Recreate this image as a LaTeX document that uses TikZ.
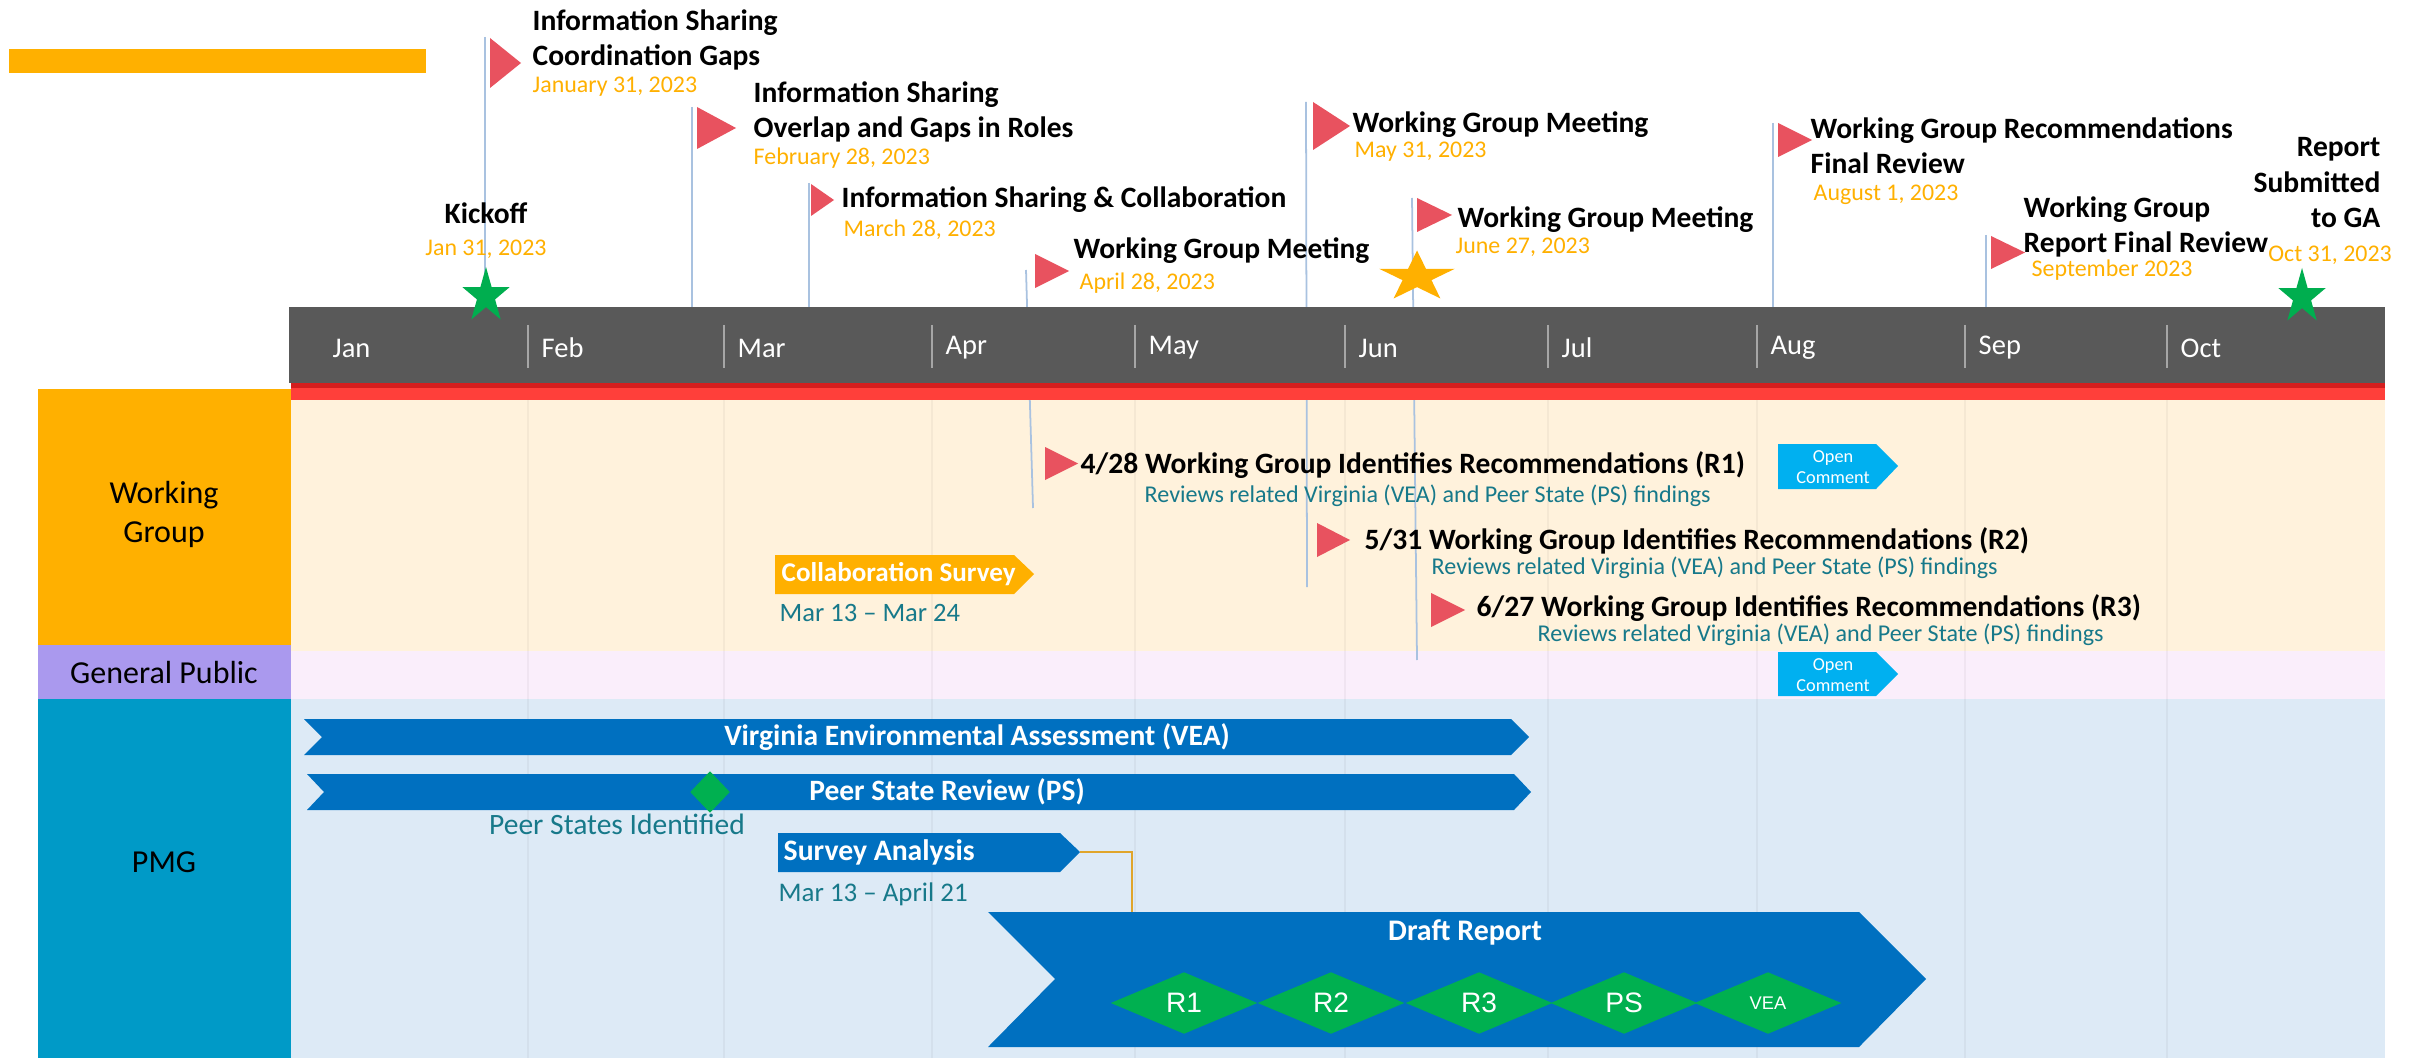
\documentclass[tikz,border=0pt]{standalone}
\usepackage{fontspec}
\setmainfont{Carlito}
\newfontfamily\arialfont{Liberation Sans}
\usetikzlibrary{shapes.geometric}
\definecolor{wgorange}{HTML}{FFB000}
\definecolor{gppurple}{HTML}{AA99EE}
\definecolor{pmgblue}{HTML}{009AC7}
\definecolor{wgbg}{HTML}{FFF2DC}
\definecolor{gpbg}{HTML}{FAEEFB}
\definecolor{pmgbg}{HTML}{DDEAF6}
\definecolor{hdrgray}{HTML}{595959}
\definecolor{stripred}{HTML}{FF3F3A}
\definecolor{darkred}{HTML}{D41E1E}
\definecolor{flagred}{HTML}{E8525F}
\definecolor{linblue}{HTML}{A9C2E0}
\definecolor{stargreen}{HTML}{00AE4F}
\definecolor{barblue}{HTML}{0070C0}
\definecolor{opencyan}{HTML}{00B0F0}
\definecolor{dgreen}{HTML}{00B050}
\definecolor{tealtext}{HTML}{17798A}
\definecolor{connorange}{HTML}{E0A52A}
\tikzset{>=latex,
  mlabel/.style={font=\fontsize{8.4}{10}\selectfont\bfseries, align=left, inner sep=0, anchor=north west},
  mdate/.style={font=\fontsize{6.8}{7.7}\selectfont, text=wgorange, inner sep=0, anchor=north west},
  month/.style={font=\fontsize{8.1}{9}\selectfont, text=white, inner sep=0, anchor=west},
  lane/.style={font=\fontsize{9.1}{11.1}\selectfont, align=center, inner sep=0},
  rlabel/.style={font=\fontsize{8.4}{9}\selectfont\bfseries, inner sep=0, anchor=north west},
  rsub/.style={font=\fontsize{6.85}{7.5}\selectfont, text=tealtext, inner sep=0, anchor=north west},
  bartext/.style={font=\fontsize{8.4}{9}\selectfont\bfseries, text=white, inner sep=0},
  opentext/.style={font=\fontsize{5.2}{5.8}\selectfont, text=white, align=center, inner sep=0},
  mline/.style={linblue, line width=0.5pt},
  grid/.style={black, opacity=0.04, line width=0.4pt},
  gem/.style={diamond, fill=dgreen, inner sep=0, minimum width=1.47cm, minimum height=0.62cm,
    text=white, font=\arialfont\fontsize{8}{9}\selectfont},
  mstar/.style={star, star points=5, star point ratio=2.618, inner sep=0, transform shape}
}
\begin{document}
\begin{tikzpicture}[x=0.01cm,y=-0.01cm]
\useasboundingbox (0,0) rectangle (2422,1058);
\fill[white] (0,0) rectangle (2422,1058);
\fill[wgorange] (9,49) rectangle (426,73);

% swimlanes
\fill[wgorange] (38,389) rectangle (291,645);
\fill[gppurple] (38,645) rectangle (291,699);
\fill[pmgblue] (38,699) rectangle (291,1058);
\fill[wgbg] (291,400) rectangle (2385,651);
\fill[gpbg] (291,651) rectangle (2385,699);
\fill[pmgbg] (291,699) rectangle (2385,1058);
\node[lane] (lwg) at (164,514) {Working\\Group};
\node[lane] (lgp) at (164,673) {General Public};
\node[lane] (lpmg) at (164,862) {PMG};
\foreach \x in {528,724,932,1135,1345,1548,1757,1965,2167}
  \draw[grid] (\x,400) -- (\x,1058);

% milestone lines
\foreach \i/\xa/\ya/\xb/\yb in {1/485/37/485/307, 2/692/107/692/307, 3/809/183/809/307,
    4/1026/270/1033/508, 5/1306/102/1307/587, 6/1412/198/1417/660,
    7/1773/123/1773/307, 8/1986/235/1986/307}{
  \coordinate (t\i) at (\xa,\ya);
  \coordinate (b\i) at (\xb,\yb);
  \draw[mline] (t\i) -- (b\i);
}

% time scale
\fill[hdrgray] (289,307) rectangle (2385,383);
\fill[darkred] (291,383) rectangle (2385,388);
\fill[stripred] (291,388) rectangle (2385,400);
\foreach \x in {528,724,932,1135,1345,1548,1757,1965,2167}
  \draw[black!35, line width=0.5pt] (\x,325) -- (\x,368);
\foreach \m/\x in {Jan/332, Feb/541, Mar/737, Apr/945, May/1148, Jun/1358,
    Jul/1561, Aug/1770, Sep/1978, Oct/2180}
  \node[month] (m\m) at (\x,348) {\m};

% flags
\foreach \x/\y/\w/\h in {490/38/31/50, 697/107/39/42, 811/184/23/32, 1035/254/34/34,
    1313/102/37/48, 1417/198/35/34, 1778/123/34/34, 1991/236/34/33,
    1045/447/33/33, 1317/523/33/34, 1431/593/34/34}
  \fill[flagred] (\x,\y) -- ++(0,\h) -- ++(\w,-\h/2) -- cycle;

% stars
\begin{scope}[shift={(486,296)}, xscale=0.86]
  \node[mstar, fill=stargreen, minimum size=0.58cm] (skick) at (0,0) {};
\end{scope}
\begin{scope}[shift={(2302,297)}, xscale=0.86]
  \node[mstar, fill=stargreen, minimum size=0.58cm] (sga) at (0,0) {};
\end{scope}
\begin{scope}[shift={(1417,277)}, xscale=1.5]
  \node[mstar, fill=wgorange, minimum size=0.53cm] (sjun) at (0,0) {};
\end{scope}

% milestone texts
\node[mlabel, anchor=north] (kick) at (486,202) {Kickoff};
\node[mdate, anchor=north] (d0) at (486,239) {Jan 31, 2023};
\node[mlabel] (is1) at (532,9) {Information Sharing\\Coordination Gaps};
\node[mdate] (d1) at (532,76) {January 31, 2023};
\node[mlabel] (is2) at (753,81) {Information Sharing\\Overlap and Gaps in Roles};
\node[mdate] (d2) at (753,147) {February 28, 2023};
\node[mlabel] (is3) at (841,186) {Information Sharing \& Collaboration};
\node[mdate] (d3) at (843,219) {March 28, 2023};
\node[mlabel] (wg1) at (1073,237) {Working Group Meeting};
\node[mdate] (d4) at (1079,272) {April 28, 2023};
\node[mlabel] (wg2) at (1352,111) {Working Group Meeting};
\node[mdate] (d5) at (1354,141) {May 31, 2023};
\node[mlabel] (wg3) at (1457,206) {Working Group Meeting};
\node[mdate] (d6) at (1455,237) {June 27, 2023};
\node[mlabel] (wgr) at (1810,117) {Working Group Recommendations\\Final Review};
\node[mdate] (d7) at (1813,184) {August 1, 2023};
\node[mlabel] (wgf) at (2023,196) {Working Group\\Report Final Review};
\node[mdate] (d8) at (2031,259) {September 2023};
\node[mlabel, anchor=north east, align=right] (rep) at (2381,137) {Report\\Submitted\\to GA};
\node[mdate, anchor=north] (d9) at (2330,245) {Oct 31, 2023};

% working group lane
\node[rlabel] (r1) at (1080,451) {4/28 Working Group Identifies Recommendations (R1)};
\node[rsub] (s1) at (1144,484) {Reviews related Virginia (VEA) and Peer State (PS) findings};
\node[rlabel] (r2) at (1364,527) {5/31 Working Group Identifies Recommendations (R2)};
\node[rsub] (s2) at (1431,556) {Reviews related Virginia (VEA) and Peer State (PS) findings};
\node[rlabel] (r3) at (1476,594) {6/27 Working Group Identifies Recommendations (R3)};
\node[rsub] (s3) at (1537,623) {Reviews related Virginia (VEA) and Peer State (PS) findings};
\fill[wgorange] (775,555) -- (1014,555) -- (1034,574) -- (1014,594) -- (775,594) -- cycle;
\node[bartext, anchor=west, font=\fontsize{7.7}{8}\selectfont\bfseries] (cs) at (781,574) {Collaboration Survey};
\node[rsub, font=\fontsize{7.55}{8}\selectfont] (csd) at (779,604) {Mar 13 -- Mar 24};
\fill[opencyan] (1778,444) -- (1876,444) -- (1898,466) -- (1876,489) -- (1778,489) -- cycle;
\node[opentext] (oc1) at (1833,467) {Open\\Comment};

% general public lane
\fill[opencyan] (1778,652) -- (1876,652) -- (1898,674) -- (1876,696) -- (1778,696) -- cycle;
\node[opentext] (oc2) at (1833,675) {Open\\Comment};

% pmg lane
\fill[barblue] (304,719) -- (1511,719) -- (1529,737) -- (1511,755) -- (304,755) -- (322,737) -- cycle;
\node[bartext] (vea) at (977,737) {Virginia Environmental Assessment (VEA)};
\fill[barblue] (307,774) -- (1514,774) -- (1531,792) -- (1514,810) -- (307,810) -- (324,792) -- cycle;
\node[bartext] (ps) at (947,792) {Peer State Review (PS)};
\node[diamond, fill=dgreen, inner sep=0, minimum width=0.40cm, minimum height=0.42cm] (psd) at (710,792) {};
\node[rsub, anchor=north, font=\fontsize{8.4}{9}\selectfont] (psi) at (617,813) {Peer States Identified};
\fill[barblue] (778,833) -- (1060,833) -- (1080,852) -- (1060,872) -- (778,872) -- cycle;
\node[bartext, anchor=west, font=\fontsize{8.45}{9}\selectfont\bfseries] (sa) at (783,852) {Survey Analysis};
\node[rsub, font=\fontsize{7.65}{8}\selectfont] (sad) at (778,882) {Mar 13 -- April 21};
\fill[barblue] (988,912) -- (1859,912) -- (1926,979) -- (1859,1047) -- (988,1047) -- (1055,979) -- cycle;
\node[bartext, font=\fontsize{8.5}{9}\selectfont\bfseries] (dr) at (1465,932) {Draft Report};
\foreach \t/\x in {R1/1184, R2/1331, R3/1479, PS/1624}
  \node[gem] (g\t) at (\x,1003) {\t};
\node[gem, font=\arialfont\fontsize{5.2}{6}\selectfont] (gVEA) at (1768,1003) {VEA};
\coordinate (satip) at (1080,852);
\coordinate (drtop) at (1132,912);
\draw[connorange, line width=0.6pt] (satip) -| (drtop);
\end{tikzpicture}
\end{document}
